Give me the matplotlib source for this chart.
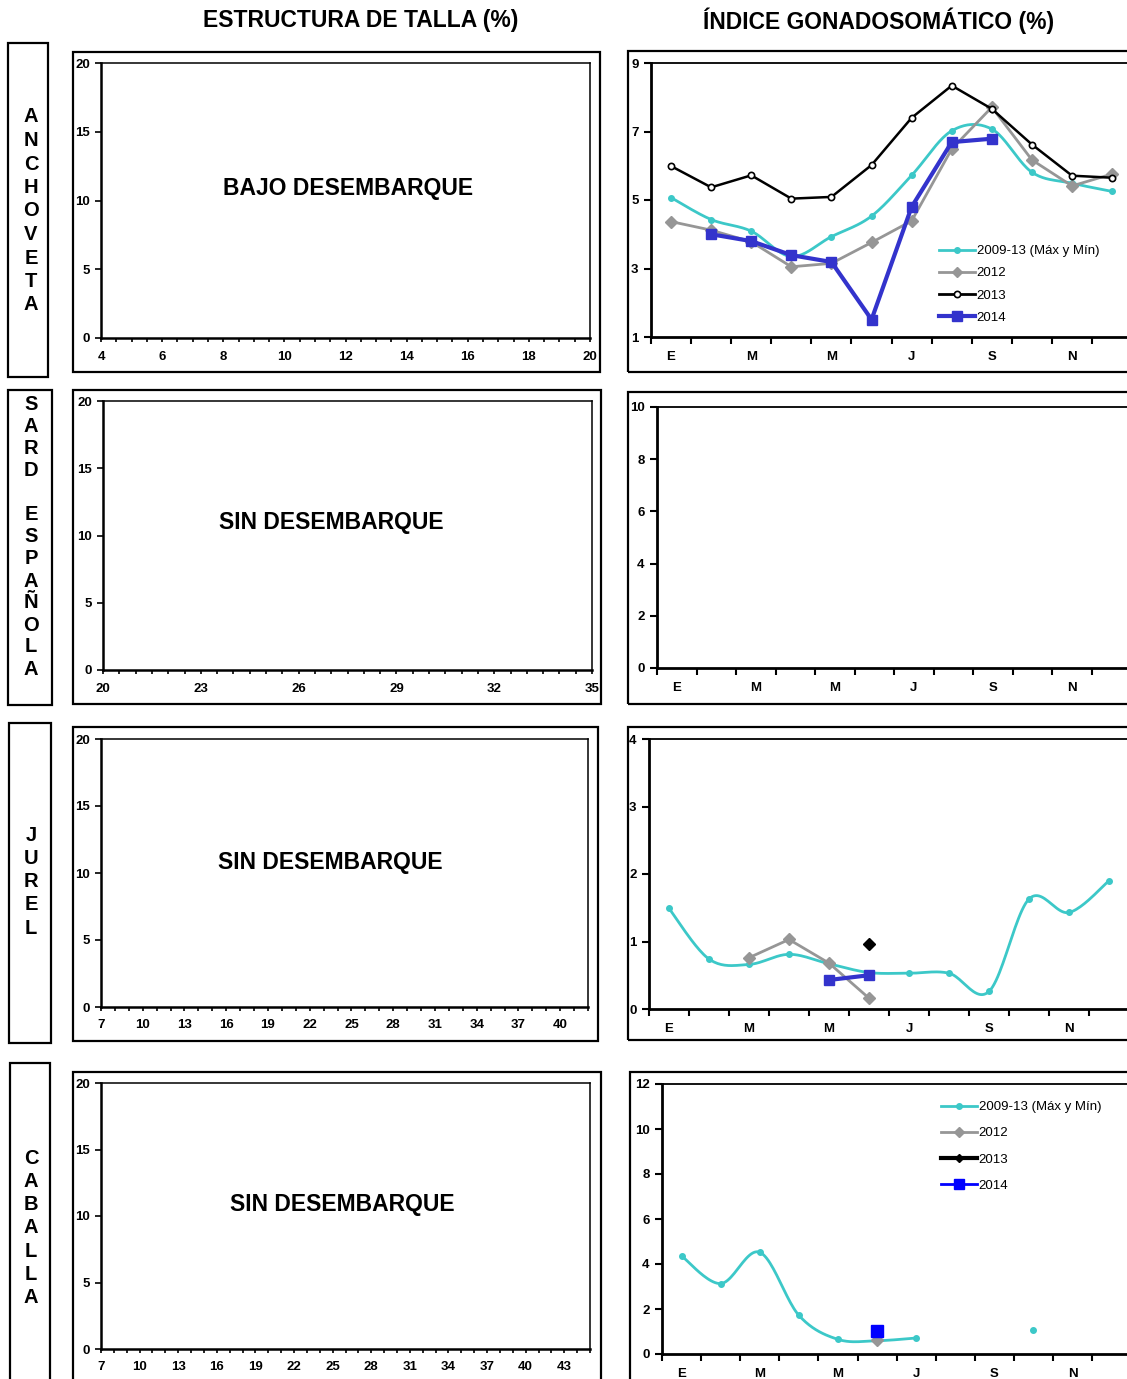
import numpy as np
import matplotlib
matplotlib.use('Agg')
import matplotlib.pyplot as plt
from matplotlib.patches import Rectangle
from matplotlib.lines import Line2D

plt.rcParams['font.family'] = ['Liberation Sans', 'DejaVu Sans']

W, H = 1127, 1379
nan = np.nan

# ---------------- data ----------------
months = ['E', 'F', 'M', 'A', 'M', 'J', 'J', 'A', 'S', 'O', 'N', 'D']
month_tick_labels = ['E', '', 'M', '', 'M', '', 'J', '', 'S', '', 'N', '']

species = ['ANCHOVETA', 'SARD ESPAÑOLA', 'JUREL', 'CABALLA']
notes = ['BAJO DESEMBARQUE', 'SIN DESEMBARQUE', 'SIN DESEMBARQUE', 'SIN DESEMBARQUE']
heading_left = 'ESTRUCTURA DE TALLA (%)'
heading_right = 'ÍNDICE GONADOSOMÁTICO (%)'

# length ranges (cm) for the size-structure panels
size_xlim = [(4, 20), (20, 35), (7, 42), (7, 45)]
size_label_start = [4, 20, 7, 7]
size_label_step = [2, 3, 3, 3]
size_minor_step = [0.5, 0.5, 1, 1]
size_yticks = [0, 5, 10, 15, 20]

series_labels = ['2009-13 (Máx y Mín)', '2012', '2013', '2014']

# Anchoveta IGS
anc_2009_13 = [5.07, 4.43, 4.09, 3.35, 3.93, 4.53, 5.72, 7.02, 7.07, 5.81, 5.49, 5.25]
anc_2012 = [4.37, 4.12, 3.78, 3.05, 3.15, 3.76, 4.39, 6.49, 7.71, 6.17, 5.41, 5.76]
anc_2013 = [5.99, 5.37, 5.72, 5.04, 5.09, 6.02, 7.40, 8.34, 7.66, 6.62, 5.71, 5.65]
anc_2014 = [nan, 4.00, 3.80, 3.39, 3.19, 1.51, 4.80, 6.69, 6.79, nan, nan, nan]

# Jurel IGS
jur_2009_13 = [1.49, 0.74, 0.66, 0.81, 0.67, 0.54, 0.53, 0.53, 0.26, 1.63, 1.43, 1.90]
jur_2012 = [nan, nan, 0.76, 1.03, 0.68, 0.16, nan, nan, nan, nan, nan, nan]
jur_2013 = [nan, nan, nan, nan, nan, 0.96, nan, nan, nan, nan, nan, nan]
jur_2014 = [nan, nan, nan, nan, 0.43, 0.50, nan, nan, nan, nan, nan, nan]

# Caballa IGS
cab_2009_13 = [4.36, 3.13, 4.52, 1.72, 0.65, 0.59, 0.71, nan, nan, 1.08, nan, nan]
cab_2012 = [nan, nan, nan, nan, nan, 0.61, nan, nan, nan, nan, nan, nan]
cab_2013 = [nan] * 12
cab_2014 = [nan, nan, nan, nan, nan, 1.02, nan, nan, nan, nan, nan, nan]

# ---------------- styles ----------------
CYAN = '#3cc8c8'
GRAY = '#969696'
BLACK = '#000000'
BLUE1 = '#3333cc'
BLUE2 = '#0000ff'

fig = plt.figure(figsize=(W / 100, H / 100), dpi=100)


def fx(x):
    return x / W


def fy(y):
    return 1 - y / H


def add_ax(l, t, r, b):
    return fig.add_axes([l / W, 1 - b / H, (r - l) / W, (b - t) / H])


def frame(l, t, r, b, lw=1.6):
    fig.patches.append(Rectangle((fx(l), fy(b)), (r - l) / W, (b - t) / H,
                                 transform=fig.transFigure, fill=False,
                                 edgecolor='black', linewidth=lw, zorder=0))


def smooth_xy(x, y, n=24):
    """Bezier (Catmull-Rom like) smoothing of contiguous runs, like Excel."""
    x = np.asarray(x, float)
    y = np.asarray(y, float)
    out_x, out_y = [], []
    ok = ~np.isnan(y)
    runs = []
    i = 0
    while i < len(y):
        if ok[i]:
            j = i
            while j + 1 < len(y) and ok[j + 1]:
                j += 1
            runs.append((i, j))
            i = j + 1
        else:
            i += 1
    for a, b in runs:
        px = x[a:b + 1]
        py = y[a:b + 1]
        if len(px) < 2:
            continue
        sx, sy = [], []
        for k in range(len(px) - 1):
            p0 = np.array([px[k - 1], py[k - 1]]) if k > 0 else np.array([px[k], py[k]])
            p1 = np.array([px[k], py[k]])
            p2 = np.array([px[k + 1], py[k + 1]])
            p3 = np.array([px[k + 2], py[k + 2]]) if k + 2 < len(px) else p2
            c1 = p1 + (p2 - p0) / 6.0
            c2 = p2 - (p3 - p1) / 6.0
            t = np.linspace(0, 1, n)[:, None]
            pts = ((1 - t) ** 3) * p1 + 3 * ((1 - t) ** 2) * t * c1 + 3 * (1 - t) * t ** 2 * c2 + t ** 3 * p2
            sx.extend(pts[:, 0])
            sy.extend(pts[:, 1])
        out_x.append(sx)
        out_y.append(sy)
    return out_x, out_y


# ---------------- headings ----------------
fig.text(fx(361), fy(21), heading_left, ha='center', va='center',
         fontsize=16.5, fontweight='bold')
fig.text(fx(879), fy(21), heading_right, ha='center', va='center',
         fontsize=16.5, fontweight='bold')

# ---------------- species label boxes ----------------
label_boxes = [(8, 43, 48, 377), (8, 390, 52, 705), (9, 723, 51, 1043), (10, 1063, 50, 1395)]
label_first_y = [117, 405, 835, 1158]
label_step = [23.5, 22.0, 23.3, 23.3]
for k, name in enumerate(species):
    l, t, r, b = label_boxes[k]
    frame(l, t, r, b, lw=1.6)
    for j, ch in enumerate(name):
        if ch == ' ':
            continue
        fig.text(fx(31), fy(label_first_y[k] + j * label_step[k]), ch,
                 ha='center', va='center', fontsize=14.5, fontweight='bold')

# ---------------- left panels: size structure ----------------
left_frames = [(73, 52, 600, 372), (73, 390, 601, 704), (73, 727, 598, 1041), (73, 1072, 601, 1395)]
left_axes = [(101, 63, 590, 338), (103, 401, 592, 670), (101, 739, 588, 1007), (101, 1083, 590, 1349)]
note_pos = [(348, 189), (331, 523), (330, 862), (342, 1204)]

for k in range(4):
    frame(*left_frames[k])
    ax = add_ax(*left_axes[k])
    x0, x1 = size_xlim[k]
    ax.set_xlim(x0, x1)
    ax.set_ylim(0, 20)
    ax.set_xticks(np.arange(size_label_start[k], x1 + 0.001, size_label_step[k]))
    ax.set_xticks(np.arange(x0, x1 + 0.001, size_minor_step[k]), minor=True)
    ax.set_yticks(size_yticks)
    ax.tick_params(axis='x', which='both', direction='out', length=3, width=1.2, pad=6,
                   labelsize=9.5)
    ax.tick_params(axis='y', which='both', direction='out', length=4, width=1.2, pad=4,
                   labelsize=9.5)
    for lab in ax.get_xticklabels() + ax.get_yticklabels():
        lab.set_fontweight('bold')
    for s in ['left', 'bottom']:
        ax.spines[s].set_linewidth(1.8)
    for s in ['top', 'right']:
        ax.spines[s].set_linewidth(1.1)
    fig.text(fx(note_pos[k][0]), fy(note_pos[k][1]), notes[k], ha='center', va='center',
             fontsize=16.5, fontweight='bold')

# ---------------- right panels: IGS ----------------
right_frames = [(628, 51, 1140, 372), (628, 392, 1140, 704), (628, 727, 1140, 1040), (630, 1072, 1140, 1395)]
right_axes = [(651, 63, 337, 40.1), (657, 407, 668, 39.5), (649, 739, 1009, 40.0), (662, 1084, 1354, 39.1)]
right_ylim = [(1, 9), (0, 10), (0, 4), (0, 12)]
right_yticks = [[1, 3, 5, 7, 9], [0, 2, 4, 6, 8, 10], [0, 1, 2, 3, 4], [0, 2, 4, 6, 8, 10, 12]]

xm = np.arange(12)
axes_r = []
for k in range(4):
    frame(*right_frames[k])
    l, t, b, sp = right_axes[k]
    ax = add_ax(l, t, l + 12 * sp, b)
    ax.set_xlim(-0.5, 11.5)
    ax.set_ylim(*right_ylim[k])
    ax.set_yticks(right_yticks[k])
    ax.set_xticks(np.arange(-0.5, 11, 1.0))
    ax.set_xticklabels([])
    ax.set_xticks(xm, minor=True)
    ax.set_xticklabels(month_tick_labels, minor=True)
    ax.tick_params(axis='x', which='major', direction='out', length=5, width=1.5)
    ax.tick_params(axis='x', which='minor', length=0, pad=10, labelsize=9.5)
    ax.tick_params(axis='y', direction='out', length=5, width=1.5, pad=4, labelsize=9.5)
    for lab in ax.get_xticklabels(minor=True) + ax.get_yticklabels():
        lab.set_fontweight('bold')
    for s in ['left', 'bottom']:
        ax.spines[s].set_linewidth(2.0)
    ax.spines['top'].set_linewidth(1.3)
    ax.spines['right'].set_visible(False)
    axes_r.append(ax)


def draw_smooth(ax, y, color, lw=2.0, ms=4):
    sx, sy = smooth_xy(xm, y)
    for a, b in zip(sx, sy):
        ax.plot(a, b, color=color, lw=lw, solid_capstyle='round', zorder=2)
    ax.plot(xm, y, ls='none', marker='o', color=color, ms=ms, zorder=2)


# Anchoveta
ax = axes_r[0]
draw_smooth(ax, anc_2009_13, CYAN)
ax.plot(xm, anc_2012, color=GRAY, lw=2.0, marker='D', ms=6, zorder=3)
ax.plot(xm, anc_2013, color=BLACK, lw=1.8, marker='o', ms=4.5, mfc='white', mec='black',
        mew=1.2, zorder=4)
ax.plot(xm, anc_2014, color=BLUE1, lw=3.0, marker='s', ms=7.5, zorder=5)
h1 = [Line2D([], [], color=CYAN, lw=2.0, marker='o', ms=4),
      Line2D([], [], color=GRAY, lw=2.0, marker='D', ms=5),
      Line2D([], [], color=BLACK, lw=2.0, marker='o', ms=4.5, mfc='white', mew=1.2),
      Line2D([], [], color=BLUE1, lw=3.0, marker='s', ms=6.5)]
fig.legend(h1, series_labels, loc='upper left', bbox_to_anchor=(fx(939), fy(245)),
           frameon=False, fontsize=9.5, handlelength=2.7, handletextpad=0.15,
           labelspacing=0.76, borderpad=0, borderaxespad=0)

# Jurel
ax = axes_r[2]
draw_smooth(ax, jur_2009_13, CYAN)
ax.plot(xm, jur_2012, color=GRAY, lw=2.0, marker='D', ms=6, zorder=3)
ax.plot(xm, jur_2013, color=BLACK, lw=2.0, marker='D', ms=6, zorder=4)
ax.plot(xm, jur_2014, color=BLUE1, lw=3.0, marker='s', ms=7.5, zorder=5)

# Caballa
ax = axes_r[3]
draw_smooth(ax, cab_2009_13, CYAN)
ax.plot(xm, cab_2012, color=GRAY, lw=2.0, marker='D', ms=6, zorder=3)
ax.plot(xm, cab_2013, color=BLACK, lw=2.5, marker='D', ms=5, zorder=4)
ax.plot(xm, cab_2014, color=BLUE2, lw=2.0, marker='s', ms=8, zorder=5)
h4 = [Line2D([], [], color=CYAN, lw=2.0, marker='o', ms=4),
      Line2D([], [], color=GRAY, lw=2.0, marker='D', ms=5),
      Line2D([], [], color=BLACK, lw=3.0, marker='D', ms=4.5),
      Line2D([], [], color=BLUE2, lw=2.0, marker='s', ms=7)]
fig.legend(h4, series_labels, loc='upper left', bbox_to_anchor=(fx(941), fy(1101)),
           frameon=False, fontsize=9.5, handlelength=2.7, handletextpad=0.15,
           labelspacing=1.06, borderpad=0, borderaxespad=0)

fig.savefig('out.png', dpi=100)
